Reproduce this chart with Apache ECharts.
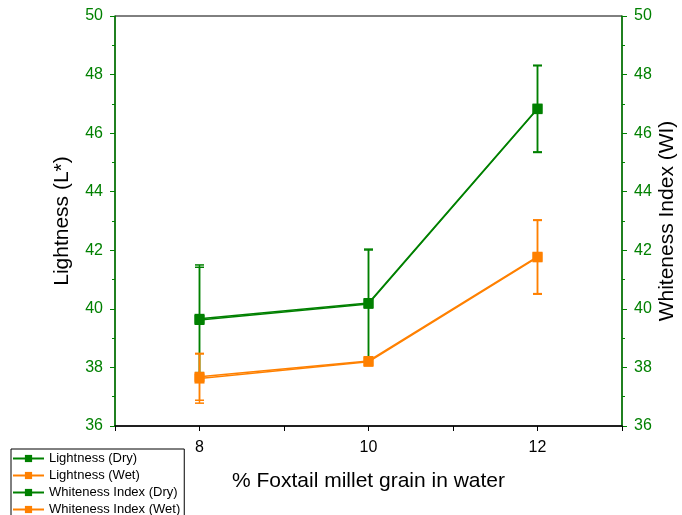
<!DOCTYPE html>
<html>
<head>
<meta charset="utf-8">
<script src="https://cdn.jsdelivr.net/npm/echarts@6/dist/echarts.min.js"></script>
<style>
html,body{margin:0;padding:0;background:#fff;}
#chart{width:682px;height:515px;}
</style>
</head>
<body>
<div id="chart"></div>
<script>
// ---- data ----
const xValues = [8, 10, 12];
const lightnessDry = [39.62, 40.17, 46.82];
const lightnessDryErr = [1.80, 1.84, 1.48];
const lightnessWet = [37.62, 38.19, 41.76];
const lightnessWetErr = [0.84, 0.08, 1.26];
const whitenessDry = [39.66, 40.20, 46.84];
const whitenessDryErr = [1.84, 1.84, 1.48];
const whitenessWet = [37.68, 38.22, 41.78];
const whitenessWetErr = [0.80, 0.08, 1.26];
const xTickLabels = [8, 10, 12];
const names = ['Lightness (Dry)', 'Lightness (Wet)', 'Whiteness Index (Dry)', 'Whiteness Index (Wet)'];

const GREEN = '#008000';
const ORANGE = '#FF8000';
const FONT = '"Liberation Sans", Arial, sans-serif';

function pairs(vals){ return xValues.map((x,i)=>[x, vals[i]]); }
function errData(vals, errs){ return xValues.map((x,i)=>[x, vals[i]-errs[i], vals[i]+errs[i]]); }

function errorSeries(vals, errs, color, yIdx){
  return {
    type: 'custom',
    yAxisIndex: yIdx,
    silent: true,
    z: 1,
    data: errData(vals, errs),
    renderItem: function(params, api){
      const x = api.value(0);
      const lo = api.coord([x, api.value(1)]);
      const hi = api.coord([x, api.value(2)]);
      const hw = 4.5;
      const st = {stroke: color, lineWidth: 1.5};
      return {type:'group', children:[
        {type:'line', shape:{x1:hi[0], y1:hi[1], x2:lo[0], y2:lo[1]}, style: st},
        {type:'line', shape:{x1:hi[0]-hw, y1:hi[1], x2:hi[0]+hw, y2:hi[1]}, style: st},
        {type:'line', shape:{x1:lo[0]-hw, y1:lo[1], x2:lo[0]+hw, y2:lo[1]}, style: st}
      ]};
    }
  };
}

function lineSeries(name, vals, color, yIdx){
  return {
    name: name,
    type: 'line',
    yAxisIndex: yIdx,
    data: pairs(vals),
    symbol: 'rect',
    symbolSize: 10,
    z: 3,
    lineStyle: {color: color, width: 1.5},
    itemStyle: {color: color},
    emphasis: {disabled: true}
  };
}

const yAxisCommon = {
  type: 'value', min: 36, max: 50, interval: 2,
  axisLine: {show: true, onZero: false, lineStyle: {color: GREEN, width: 1.5}},
  axisTick: {show: true, inside: false, length: 5, lineStyle: {color: GREEN, width: 1}},
  minorTick: {show: true, splitNumber: 2, length: 3, lineStyle: {color: GREEN, width: 1}},
  axisLabel: {color: GREEN, fontSize: 16, fontFamily: FONT, margin: 12},
  splitLine: {show: false},
  nameLocation: 'middle',
  nameMoveOverlap: false,
  nameTextStyle: {color: '#000', fontSize: 21, fontFamily: FONT}
};

const option = {
  animation: false,
  backgroundColor: '#fff',
  grid: {left: 115, right: 60, top: 16, bottom: 89, show: true, borderColor: '#000', borderWidth: 1,
         backgroundColor: 'transparent', containLabel: false, outerBoundsMode: 'none'},
  legend: {
    data: names,
    orient: 'vertical',
    left: 11, top: 449, height: 120,
    padding: [2, 4, 6, 1],
    itemGap: 2,
    itemWidth: 31,
    itemHeight: 9,
    borderColor: '#000', borderWidth: 1,
    backgroundColor: '#fff',
    textStyle: {fontSize: 13, fontFamily: FONT, color: '#000', lineHeight: 15}
  },
  xAxis: {
    type: 'value', min: 7, max: 13, interval: 1,
    axisLine: {show: true, onZero: false, lineStyle: {color: '#000', width: 1.5}},
    axisTick: {show: true, inside: false, length: 5, lineStyle: {color: '#000'}},
    axisLabel: {
      color: '#000', fontSize: 16, fontFamily: FONT, margin: 14,
      formatter: function(v){ return xTickLabels.indexOf(v) >= 0 ? String(v) : ''; }
    },
    splitLine: {show: false},
    name: '% Foxtail millet grain in water',
    nameLocation: 'middle', nameGap: 45,
    nameMoveOverlap: false,
    nameTextStyle: {color: '#000', fontSize: 21, fontFamily: FONT}
  },
  yAxis: [
    Object.assign({}, yAxisCommon, {position: 'left', name: 'Lightness (L*)', nameGap: 42}),
    Object.assign({}, yAxisCommon, {position: 'right', name: 'Whiteness Index (WI)', nameGap: 35})
  ],
  series: [
    errorSeries(lightnessDry, lightnessDryErr, GREEN, 0),
    errorSeries(whitenessDry, whitenessDryErr, GREEN, 1),
    errorSeries(lightnessWet, lightnessWetErr, ORANGE, 0),
    errorSeries(whitenessWet, whitenessWetErr, ORANGE, 1),
    lineSeries(names[0], lightnessDry, GREEN, 0),
    lineSeries(names[1], lightnessWet, ORANGE, 0),
    lineSeries(names[2], whitenessDry, GREEN, 1),
    lineSeries(names[3], whitenessWet, ORANGE, 1)
  ]
};

const chart = echarts.init(document.getElementById('chart'), null, {renderer: 'canvas'});
chart.setOption(option);
</script>
</body>
</html>
